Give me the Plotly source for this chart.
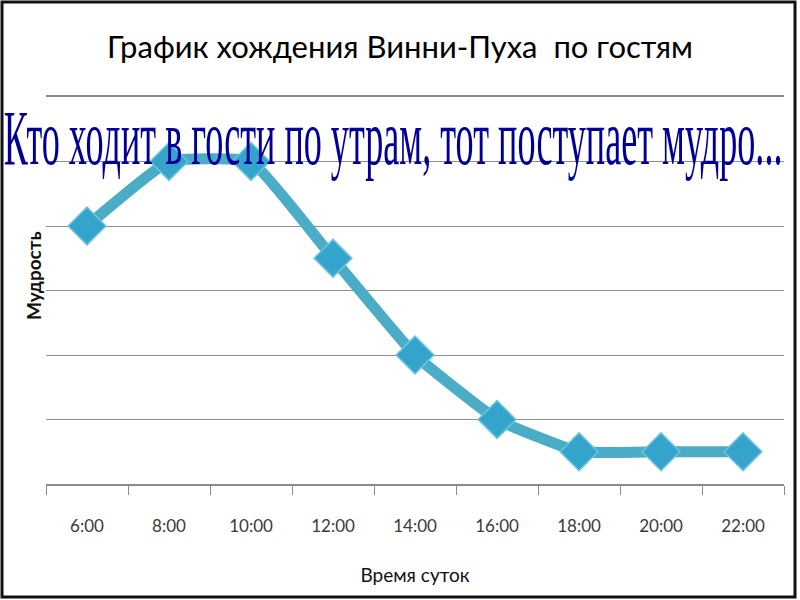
import plotly.graph_objects as go

# ---- data ----
times = ["6:00", "8:00", "10:00", "12:00", "14:00", "16:00", "18:00", "20:00", "22:00"]
wisdom = [4, 5, 5, 3.5, 2, 1, 0.5, 0.5, 0.5]

title_text = "График хождения Винни-Пуха  по гостям"
x_title = "Время суток"
y_title = "Мудрость"
motto = "Кто ходит в гости по утрам, тот поступает мудро..."

W, H = 800, 600
L, R, T, B = 46, 16, 97, 116
PW, PH = W - L - R, H - T - B


def px(x):
    return (x - L) / PW


def py(y):
    return (H - B - y) / PH


fig = go.Figure()
fig.add_trace(go.Scatter(
    x=times, y=wisdom, mode="lines+markers",
    line=dict(color="#4BACC6", width=11, shape="spline", smoothing=0.35),
    marker=dict(symbol="diamond", size=29, color="#35A4CC",
                line=dict(color="#6CC3DE", width=1.5)),
    showlegend=False, hoverinfo="skip",
))

fig.update_layout(
    width=W, height=H,
    margin=dict(l=L, r=R, t=T, b=B),
    paper_bgcolor="white", plot_bgcolor="white",
    title=dict(text=title_text, x=0.5, xref="container", xanchor="center",
               y=1 - 47 / H, yref="container", yanchor="middle",
               font=dict(family="Lato", size=31, color="#000000")),
    xaxis=dict(
        type="category", range=[-0.5, 8.5],
        showline=True, mirror=True, linecolor="#8a8a8a", linewidth=1.5,
        ticks="outside", tickson="boundaries", ticklen=9, tickcolor="#8a8a8a", tickwidth=1.2,
        showgrid=False, ticklabelstandoff=26,
        tickfont=dict(family="Lato", size=17, color="#3a3a3a"),
        title=dict(text=x_title, standoff=34,
                   font=dict(family="Lato", size=19, color="#111111")),
    ),
    yaxis=dict(
        range=[0, 6], dtick=1, showticklabels=False,
        showgrid=True, gridcolor="#8f8f8f", gridwidth=1.3,
        zeroline=False, showline=False, ticks="",
    ),
)

# y axis title
fig.add_annotation(text="<b>" + y_title + "</b>", xref="paper", yref="paper",
                   x=px(33), y=py(276), xanchor="center", yanchor="middle",
                   textangle=-90, showarrow=False,
                   font=dict(family="Lato", size=19, color="#111111"))

# the motto
fig.add_annotation(text=motto, xref="paper", yref="paper",
                   x=px(393), y=py(137),
                   xanchor="center", yanchor="middle", showarrow=False,
                   font=dict(family="Liberation Serif", size=78, color="#000096"))

# picture frame
fig.add_shape(type="rect", xref="paper", yref="paper",
              x0=px(2), x1=px(795), y0=py(597), y1=py(2),
              line=dict(color="#111111", width=3), fillcolor="rgba(0,0,0,0)", layer="above")

post = """
document.body.style.margin = '0';
document.body.style.padding = '0';
var gd = document.getElementById('{plot_id}');
function squeeze(){
  var nodes = gd.querySelectorAll('.annotation-text');
  nodes.forEach(function(el){
    if ((el.textContent || '').indexOf('Кто') !== 0) return;
    var base = el.getAttribute('data-base-transform');
    if (base === null) { base = el.getAttribute('transform') || ''; el.setAttribute('data-base-transform', base); }
    el.setAttribute('transform', base);
    var bb = el.getBBox();
    var cx = bb.x + bb.width / 2, cy = bb.y + bb.height / 2;
    var sx = 779 / bb.width;
    el.setAttribute('transform', base + ' translate(' + cx + ',' + cy + ') scale(' + sx + ',1) translate(' + (-cx) + ',' + (-cy) + ')');
  });
}
squeeze();
gd.on('plotly_afterplot', squeeze);
"""

fig.write_html("out.html", post_script=post, config={"displayModeBar": False})
